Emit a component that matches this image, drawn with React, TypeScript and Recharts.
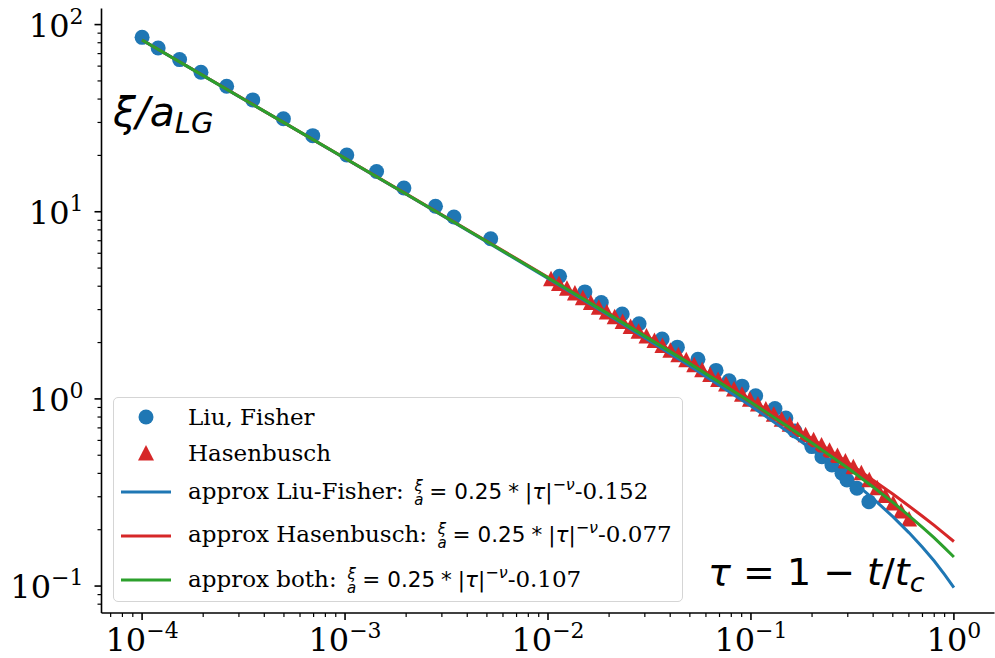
import React from "react";
import { ComposedChart, Scatter, XAxis, YAxis } from "recharts";

const BLUE = "#1f77b4";
const RED = "#d62728";
const GREEN = "#2ca02c";

// Liu, Fisher points (tau, xi/a)
const liuTau = [
  1.0e-4, 1.2e-4, 1.53e-4, 1.95e-4, 2.61e-4, 3.51e-4, 4.97e-4, 6.93e-4, 1.02e-3,
  1.43e-3, 1.95e-3, 2.79e-3, 3.44e-3, 5.22e-3, 0.0114, 0.0152, 0.0183, 0.0232,
  0.0281, 0.0365, 0.0434, 0.0548, 0.0673, 0.078, 0.0904, 0.1055, 0.1313, 0.1486,
  0.1648, 0.1995, 0.2237, 0.2506, 0.2809, 0.2973, 0.3329, 0.3811,
];
const liuXi = [
  85.5, 75.0, 65.0, 55.6, 46.8, 39.6, 31.4, 25.5, 20.1, 16.4, 13.4, 10.7, 9.37,
  7.17, 4.52, 3.73, 3.27, 2.84, 2.52, 2.09, 1.89, 1.63, 1.42, 1.25, 1.17, 1.04,
  0.889, 0.791, 0.674, 0.556, 0.491, 0.444, 0.401, 0.369, 0.333, 0.282,
];

// Hasenbusch points
const hasTau = [
  0.01035, 0.01133, 0.0124, 0.01357, 0.01485, 0.01626, 0.01779, 0.01948, 0.02131,
  0.02332, 0.02553, 0.02794, 0.03057, 0.03346, 0.03662, 0.04009, 0.04386, 0.048,
  0.05254, 0.0575, 0.06295, 0.06888, 0.07539, 0.08251, 0.09033, 0.09886, 0.1082,
  0.1184, 0.1296, 0.1418, 0.1552, 0.1699, 0.1859, 0.2035, 0.2227, 0.2438, 0.2668,
  0.292, 0.3196, 0.3498, 0.3828, 0.419, 0.4585, 0.5018, 0.5493, 0.6012,
];
const hasXi = [
  4.38, 4.13, 3.9, 3.68, 3.47, 3.27, 3.09, 2.91, 2.75, 2.59, 2.44, 2.3, 2.17, 2.05,
  1.93, 1.82, 1.72, 1.62, 1.52, 1.43, 1.35, 1.27, 1.2, 1.13, 1.06, 0.997, 0.938,
  0.882, 0.829, 0.779, 0.731, 0.687, 0.644, 0.605, 0.567, 0.531, 0.498, 0.466,
  0.434, 0.403, 0.37, 0.335, 0.305, 0.278, 0.252, 0.228,
];

// fitted curves
const fitTau = [
  1e-4, 2e-4, 5e-4, 1e-3, 2e-3, 5e-3, 0.01, 0.02, 0.05, 0.1, 0.15, 0.2, 0.3, 0.4,
  0.5, 0.6, 0.7, 0.8, 0.9, 1.0,
];
const fitLiu = [
  82.63, 53.35, 29.88, 19.26, 12.39, 6.89, 4.4, 2.79, 1.498, 0.915, 0.674, 0.537,
  0.382, 0.293, 0.235, 0.193, 0.161, 0.136, 0.115, 0.098,
];
const fitHas = [
  82.7, 53.42, 29.95, 19.33, 12.46, 6.96, 4.47, 2.86, 1.573, 0.99, 0.749, 0.612,
  0.457, 0.368, 0.31, 0.268, 0.236, 0.211, 0.19, 0.173,
];
const fitBoth = [
  82.67, 53.39, 29.92, 19.3, 12.43, 6.93, 4.44, 2.83, 1.543, 0.96, 0.719, 0.582,
  0.427, 0.338, 0.28, 0.238, 0.206, 0.181, 0.16, 0.143,
];

const xExps = [-5, -4, -3, -2, -1, 0];
const yExps = [-2, -1, 0, 1, 2];
const mantissas = [1, 2, 3, 4, 5, 6, 7, 8, 9];

const X_MIN = Math.pow(10, -4.2);
const X_MAX = Math.pow(10, 0.2);
const Y_MIN = Math.pow(10, -1.144);
const Y_MAX = Math.pow(10, 2.086);

const buildTicks = (exps: number[], lo: number, hi: number) =>
  exps
    .flatMap((e) => mantissas.map((m) => m * Math.pow(10, e)))
    .filter((v) => v >= lo && v <= hi);

const xTicks = buildTicks(xExps, X_MIN, X_MAX);
const yTicks = buildTicks(yExps, Y_MIN, Y_MAX);

const pairs = (xs: number[], ys: number[]) => xs.map((x, i) => ({ x, y: ys[i] }));
const liuData = pairs(liuTau, liuXi);
const hasData = pairs(hasTau, hasXi);
const fitLiuData = pairs(fitTau, fitLiu);
const fitHasData = pairs(fitTau, fitHas);
const fitBothData = pairs(fitTau, fitBoth);

const SERIF = "'DejaVu Serif', serif";
const SANS = "'DejaVu Sans', sans-serif";

const expOf = (v: number) => {
  const l = Math.log10(v);
  const e = Math.round(l);
  return Math.abs(l - e) < 1e-6 ? e : null;
};
const expText = (e: number) => (e < 0 ? "\u2212" + -e : String(e));

const XTick = (p: any) => {
  const { x, y, payload } = p;
  const e = expOf(payload.value);
  return (
    <g>
      <line x1={x} x2={x} y1={y} y2={y + (e !== null ? 7 : 4)} stroke="#000" strokeWidth={e !== null ? 1.6 : 1.2} />
      {e !== null && (
        <text x={x} y={y + 38} textAnchor="middle" fontFamily={SERIF} fontSize={32} fill="#000">
          10<tspan dy={-13} fontSize={22}>{expText(e)}</tspan>
        </text>
      )}
    </g>
  );
};

const YTick = (p: any) => {
  const { x, y, payload } = p;
  const e = expOf(payload.value);
  return (
    <g>
      <line x1={x} x2={x - (e !== null ? 7 : 4)} y1={y} y2={y} stroke="#000" strokeWidth={e !== null ? 1.6 : 1.2} />
      {e !== null && (
        <text x={x - 18} y={y + 12} textAnchor="end" fontFamily={SERIF} fontSize={32} fill="#000">
          10<tspan dy={-13} fontSize={22}>{expText(e)}</tspan>
        </text>
      )}
    </g>
  );
};

const Dot = (p: any) => <circle cx={p.cx} cy={p.cy} r={7.5} fill={BLUE} />;
const Tri = (p: any) => (
  <path d={`M${p.cx},${p.cy - 8}L${p.cx + 8},${p.cy + 7.5}L${p.cx - 8},${p.cy + 7.5}Z`} fill={RED} />
);
const NoMark = () => <g />;

const Frac = () => (
  <span
    style={{
      display: "inline-flex",
      flexDirection: "column",
      alignItems: "center",
      fontFamily: SANS,
      fontStyle: "italic",
      fontSize: 15,
      lineHeight: "14px",
      margin: "0 6px 0 3px",
      verticalAlign: "middle",
    }}
  >
    <span>ξ</span>
    <span>a</span>
  </span>
);

const FitLabel = ({ name, c }: { name: string; c: string }) => (
  <span>
    approx {name}: <Frac />
    <span style={{ fontFamily: SANS, fontSize: 21.5 }}>
      =<span style={{ marginLeft: 7 }}>0.25</span>
      <span style={{ margin: "0 6px" }}>*</span>|<i>τ</i>|
      <sup style={{ fontSize: 16, verticalAlign: "9px", lineHeight: 0 }}>
        −<i>ν</i>
      </sup>
    </span>
    {c}
  </span>
);

const legendRows = [
  { cy: 19.5, kind: "dot", label: <span>Liu, Fisher</span> },
  { cy: 55, kind: "tri", label: <span>Hasenbusch</span> },
  { cy: 94.5, kind: BLUE, label: <FitLabel name="Liu-Fisher" c="-0.152" /> },
  { cy: 138, kind: RED, label: <FitLabel name="Hasenbusch" c="-0.077" /> },
  { cy: 182.5, kind: GREEN, label: <FitLabel name="both" c="-0.107" /> },
];

const Legend = () => (
  <div
    style={{
      position: "absolute",
      left: 113,
      top: 396.5,
      width: 570,
      height: 205,
      boxSizing: "border-box",
      border: "1.5px solid #d5d5d5",
      borderRadius: 5,
      background: "rgba(255,255,255,0.8)",
      fontFamily: SERIF,
      fontSize: 23,
      color: "#000",
    }}
  >
    {legendRows.map((r, i) => (
      <div
        key={i}
        style={{ position: "absolute", left: 0, top: r.cy - 20, height: 40, width: 570, display: "flex", alignItems: "center" }}
      >
        <svg width={70} height={40} style={{ flex: "none" }}>
          {r.kind === "dot" && <circle cx={32} cy={20} r={7.5} fill={BLUE} />}
          {r.kind === "tri" && <path d="M32,12L40,27.5L24,27.5Z" fill={RED} />}
          {r.kind !== "dot" && r.kind !== "tri" && (
            <line x1={7} x2={57} y1={20} y2={20} stroke={r.kind} strokeWidth={3} />
          )}
        </svg>
        <div style={{ marginLeft: 4, whiteSpace: "nowrap" }}>{r.label}</div>
      </div>
    ))}
  </div>
);

export default function App() {
  return (
    <div style={{ position: "absolute", left: 0, top: 0, width: 995, height: 658, background: "#fff" }}>
      <ComposedChart width={995} height={658} margin={{ top: 8.5, right: 0.5, bottom: 0, left: 0 }}>
        <XAxis
          dataKey="x"
          type="number"
          scale="log"
          domain={[X_MIN, X_MAX]}
          allowDataOverflow
          ticks={xTicks}
          interval={0}
          tick={(p: any) => <XTick {...p} />}
          tickLine={false}
          tickSize={0}
          tickMargin={0}
          axisLine={{ stroke: "#000", strokeWidth: 1.6 }}
          height={45}
        />
        <YAxis
          dataKey="y"
          type="number"
          scale="log"
          domain={[Y_MIN, Y_MAX]}
          allowDataOverflow
          ticks={yTicks}
          interval={0}
          tick={(p: any) => <YTick {...p} />}
          tickLine={false}
          tickSize={0}
          tickMargin={0}
          axisLine={{ stroke: "#000", strokeWidth: 1.6 }}
          width={101.5}
        />
        <Scatter data={liuData} shape={Dot} isAnimationActive={false} />
        <Scatter data={hasData} shape={Tri} isAnimationActive={false} />
        <Scatter data={fitLiuData} shape={NoMark} line={{ stroke: BLUE, strokeWidth: 3 }} isAnimationActive={false} />
        <Scatter data={fitHasData} shape={NoMark} line={{ stroke: RED, strokeWidth: 3 }} isAnimationActive={false} />
        <Scatter data={fitBothData} shape={NoMark} line={{ stroke: GREEN, strokeWidth: 3 }} isAnimationActive={false} />
      </ComposedChart>
      <svg width={995} height={658} style={{ position: "absolute", left: 0, top: 0, pointerEvents: "none" }}>
        <text x={113} y={126} fontFamily={SANS} fontStyle="italic" fontSize={41} fill="#000">
          ξ/a<tspan fontSize={29} dy={7}>LG</tspan>
        </text>
        <text x={708} y={585} fontFamily={SANS} fontSize={38} fill="#000">
          <tspan fontStyle="italic">τ</tspan> = 1 − <tspan fontStyle="italic">t</tspan>/<tspan fontStyle="italic">t</tspan>
          <tspan fontStyle="italic" fontSize={27} dy={7}>c</tspan>
        </text>
      </svg>
      <Legend />
    </div>
  );
}
